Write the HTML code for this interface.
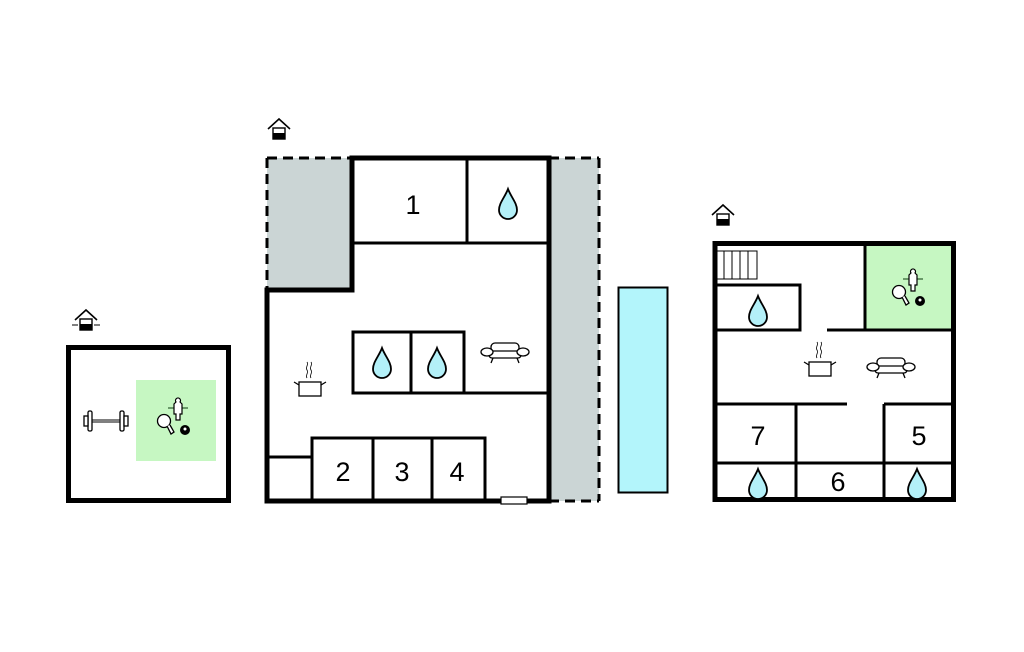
<!DOCTYPE html>
<html><head><meta charset="utf-8"><style>html,body{margin:0;padding:0;background:#fff}svg{display:block}</style></head>
<body>
<svg width="1024" height="652" viewBox="0 0 1024 652" xmlns="http://www.w3.org/2000/svg">
<defs>
<g id="drop"><path d="M0,-14 C3,-6 9,0 9,7 A9,9 0 0 1 -9,7 C-9,0 -3,-6 0,-14 Z" fill="#b3f0f8" stroke="#000" stroke-width="1.8"/></g>
<g id="pot" fill="none" stroke="#000" stroke-width="1.3"><rect x="-11" y="-7" width="22" height="14" fill="#fff"/><path d="M-11,-4 L-16,-7 M11,-4 L16,-7"/><path d="M-3,-11 c-2,-3 2,-5 0,-8 c-2,-3 2,-5 0,-8 M1,-11 c-2,-3 2,-5 0,-8 c-2,-3 2,-5 0,-8" stroke-width="0.8"/></g>
<g id="sofa" fill="#fff" stroke="#000" stroke-width="1.3"><rect x="-14" y="-8" width="28" height="9" rx="4"/><rect x="-16" y="0" width="32" height="7" rx="3"/><ellipse cx="-18" cy="1" rx="6" ry="4"/><ellipse cx="18" cy="1" rx="6" ry="4"/><path d="M-12,7 L-14,12 M12,7 L14,12" fill="none"/></g>
<g id="games"><path d="M-10,-13 L10,-13" stroke="#4a7a4a" stroke-width="1.5"/><path d="M-2,-19 a2.5,2.5 0 1 1 4,0 l2,2 v10 h-2 v6 h-4 v-6 h-2 v-10 z" fill="#fff" stroke="#000" stroke-width="1.2"/><circle cx="-14" cy="0" r="6.5" fill="#fff" stroke="#000" stroke-width="1.3"/><path d="M-11,5 L-7,13 L-4,11 L-8,4" fill="#fff" stroke="#000" stroke-width="1.3"/><circle cx="7" cy="9" r="5" fill="#000"/><circle cx="7" cy="8" r="1.5" fill="#fff"/></g>
<g id="house"><path d="M-11,0 L0,-10 L11,0" fill="none" stroke="#000" stroke-width="1.6"/><rect x="-6" y="-1" width="12" height="11" fill="#fff" stroke="#000" stroke-width="1.4"/><rect x="-6" y="4" width="12" height="6" fill="#000"/></g>
</defs>

<!-- left building -->
<use href="#house" x="86" y="320"/>
<path d="M72,325 h6 M94,325 h6" stroke="#000" stroke-width="1"/>
<rect x="136" y="380" width="80" height="81" fill="#c6f7c2"/>
<rect x="68.5" y="347.5" width="160" height="153" fill="none" stroke="#000" stroke-width="5"/>
<g stroke="#000" fill="#fff" stroke-width="1.3">
<path d="M84,420 h44" stroke-width="1"/><path d="M84,422 h44" stroke-width="1"/>
<rect x="88" y="411" width="4" height="20" rx="1.5"/><rect x="120" y="411" width="4" height="20" rx="1.5"/>
<rect x="84" y="416" width="4" height="10"/><rect x="124" y="416" width="4" height="10"/>
</g>
<use href="#games" x="178" y="421"/>

<!-- middle building -->
<use href="#house" x="279" y="129"/>
<path d="M267,158 H352 V290 H267 Z" fill="#cbd5d5"/>
<path d="M549,158 H599 V501 H549 Z" fill="#cbd5d5"/>
<path d="M267,158 H352 M267,158 V290 M599,158 V501 M549,158 H599 M549,501 H599" fill="none" stroke="#000" stroke-width="3" stroke-dasharray="10,6"/>
<path d="M352,290 V158 H549 V501 H267 V290 Z" fill="none" stroke="#000" stroke-width="5"/>
<g stroke="#000" stroke-width="3" fill="none">
<path d="M352,243 H549 M467,158 V243"/>
<path d="M353,332 H464 V393 H353 Z M411,332 V393 M464,393 H549"/>
<path d="M312,501 V438 H485 V501 M373,438 V501 M432,438 V501 M267,457 H312"/>
</g>
<rect x="501" y="497" width="26" height="7" fill="#fff" stroke="#000" stroke-width="1.2"/>
<g font-family="Liberation Sans, sans-serif" font-size="27" text-anchor="middle" fill="#000">
<text x="413" y="214">1</text><text x="343" y="481">2</text><text x="402" y="481">3</text><text x="457" y="481">4</text>
</g>
<use href="#drop" x="508" y="203"/>
<use href="#drop" x="382" y="362"/>
<use href="#drop" x="437" y="362"/>
<use href="#pot" x="310" y="389"/>
<use href="#sofa" x="505" y="351"/>

<!-- pool -->
<rect x="618.5" y="287.5" width="49" height="205" fill="#b3f5fb" stroke="#000" stroke-width="2"/>

<!-- right building -->
<use href="#house" x="723" y="215"/>
<rect x="865" y="242" width="90" height="88" fill="#c6f7c2"/>
<rect x="715" y="243.5" width="238.5" height="256" fill="none" stroke="#000" stroke-width="5"/>
<g stroke="#000" stroke-width="3" fill="none">
<path d="M865,242 V330 M827,330 H955"/>
<path d="M716,285 H800 V330 H716"/>
<path d="M716,404 H847 M884,404 H955 M796,404 V501 M884,404 V501 M716,463 H955"/>
</g>
<g stroke="#000" stroke-width="1" fill="none"><rect x="716" y="251" width="41" height="28"/><path d="M724,251 V279 M732,251 V279 M740,251 V279 M748,251 V279"/></g>
<use href="#games" x="913" y="292"/>
<use href="#drop" x="758" y="310"/>
<use href="#pot" x="820" y="369"/>
<use href="#sofa" x="891" y="366"/>
<g font-family="Liberation Sans, sans-serif" font-size="27" text-anchor="middle" fill="#000">
<text x="758" y="445">7</text><text x="919" y="445">5</text><text x="838" y="491">6</text>
</g>
<use href="#drop" x="758" y="483"/>
<use href="#drop" x="917" y="483"/>
</svg>
</body></html>
